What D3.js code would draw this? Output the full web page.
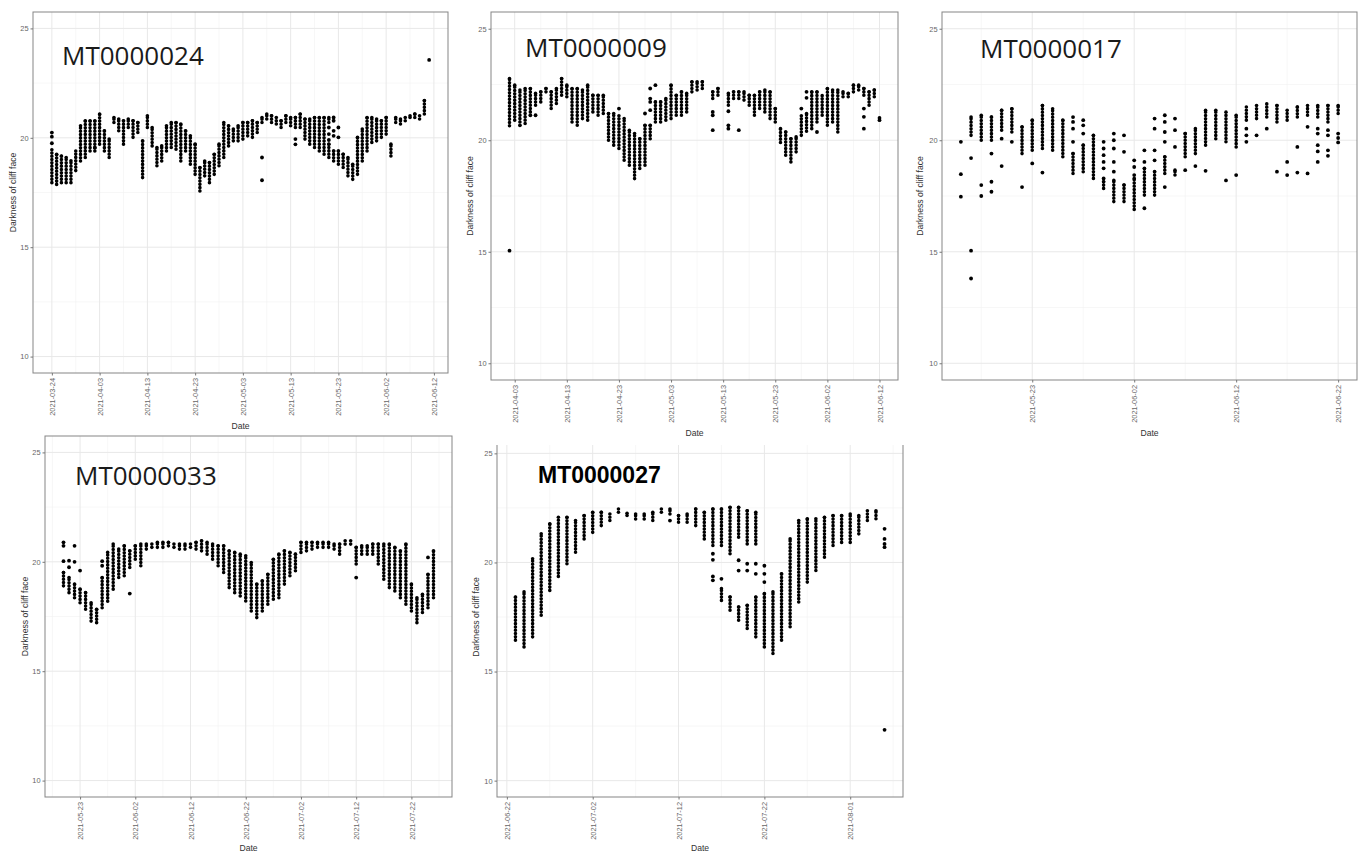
<!DOCTYPE html>
<html lang="en">
<head>
<meta charset="UTF-8">
<title>Darkness of cliff face</title>
<script src="https://cdn.jsdelivr.net/npm/d3@7"></script>
<style>
  * { margin: 0; padding: 0; }
  body { background: #fff; }
  svg { display: block; }
  .axis text { font-family: "Liberation Sans", Arial, sans-serif; font-size: 7.4px; fill: #666; }
  .axis line { stroke: #777; }
  .axis path { display: none; }
  .axis-title { font-family: "Liberation Sans", Arial, sans-serif; font-size: 8.6px; fill: #333; }
  .grid-major { stroke: #e8e8e8; stroke-width: 1; }
  .grid-minor { stroke: #f2f2f2; stroke-width: 0.6; }
</style>
</head>
<body>
<svg id="chart" width="1364" height="854"></svg>
<script>
// values shared by all panels
var yLimits = [10, 25];
var yTicks = [10, 15, 20, 25];

// MT0000024 : day offset from start, [day, low, high] stacks and single [day, value] points
var mt24Start = "2021-03-24";
var mt24Ticks = ["2021-03-24","2021-04-03","2021-04-13","2021-04-23","2021-05-03","2021-05-13","2021-05-23","2021-06-02","2021-06-12"];
var mt24Runs = [[0,17.95,19.45],[1,17.87,19.25],[2,17.95,19.17],[3,17.95,19.10],[4,17.95,18.95],[5,18.50,19.40],[6,18.94,20.55],[7,19.10,20.78],[8,19.40,20.78],[9,19.40,20.78],[10,19.71,21.09],[11,19.40,20.32],[12,19.10,19.94],[13,20.70,20.93],[14,20.32,20.86],[15,19.71,20.78],[16,20.47,20.86],[17,20.02,20.78],[18,20.24,20.70],[19,18.18,19.86],[20,20.47,21.01],[21,19.63,20.47],[22,18.72,19.56],[23,18.94,19.63],[24,19.40,20.55],[25,19.56,20.70],[26,19.48,20.70],[27,18.94,20.63],[28,19.40,20.32],[29,18.79,20.09],[30,18.33,19.71],[31,17.57,18.64],[32,18.26,18.94],[33,17.95,18.87],[34,18.33,19.25],[35,18.72,19.71],[36,19.10,20.70],[37,19.63,20.55],[38,19.86,20.40],[39,19.86,20.55],[40,19.94,20.70],[41,20.09,20.70],[42,20.02,20.78],[43,20.24,20.70],[44,20.70,20.93],[45,20.86,21.09],[46,20.70,21.01],[47,20.63,20.93],[48,20.47,20.78],[49,20.70,21.01],[50,20.55,20.93],[51,20.47,20.93],[52,20.47,21.09],[53,19.94,20.86],[54,19.71,20.86],[55,19.56,20.93],[56,19.40,20.93],[57,19.25,20.93],[58,20.70,20.93],[58,19.10,19.71],[59,18.94,19.40],[60,18.79,19.40],[61,18.64,19.25],[62,18.26,19.10],[63,18.10,18.79],[64,18.33,20.02],[65,18.94,20.40],[66,19.40,20.93],[67,19.79,20.93],[68,19.86,20.86],[69,20.02,20.78],[70,20.17,20.93],[71,19.17,19.71],[72,20.70,20.93],[73,20.63,20.86],[74,20.78,20.93],[75,20.93,21.01],[76,20.93,21.09],[77,20.86,21.01],[78,21.09,21.70]];
var mt24Dots = [[0,20.24],[0,20.05],[0,19.75],[9,19.55],[44,19.10],[44,18.06],[51,19.94],[51,19.70],[58,20.47],[58,20.17],[58,19.90],[59,20.93],[59,20.78],[59,20.32],[59,20.09],[60,20.47],[60,20.02],[79,23.56]];

// MT0000009
var mt09Start = "2021-04-03";
var mt09Ticks = ["2021-04-03","2021-04-13","2021-04-23","2021-05-03","2021-05-13","2021-05-23","2021-06-02","2021-06-12"];
var mt09Runs = [[-1,20.65,22.77],[0,20.90,22.47],[1,20.82,22.25],[2,20.75,22.32],[3,21.27,22.32],[4,21.57,22.10],[5,21.72,22.17],[6,22.17,22.32],[7,21.42,22.17],[8,21.65,22.32],[9,22.02,22.77],[10,21.95,22.47],[11,20.82,22.32],[12,20.67,22.32],[13,20.97,22.25],[14,20.90,22.47],[15,21.27,22.02],[16,21.12,22.02],[17,21.20,22.02],[18,20.00,21.20],[19,19.78,21.20],[20,19.63,21.10],[21,19.10,20.97],[22,18.88,20.45],[23,18.28,20.30],[24,18.73,20.07],[25,18.88,20.67],[26,20.07,20.67],[27,20.82,21.72],[28,20.82,21.72],[29,20.90,21.87],[30,20.97,22.47],[31,21.12,22.02],[32,21.12,22.17],[33,21.27,22.10],[34,22.17,22.62],[35,22.25,22.62],[36,22.32,22.62],[38,21.87,22.17],[39,22.02,22.32],[41,21.57,22.10],[42,21.87,22.17],[43,21.87,22.17],[44,21.80,22.17],[45,21.57,22.02],[46,21.12,22.02],[47,21.42,22.17],[48,21.27,22.25],[49,20.97,22.17],[50,20.82,21.42],[51,19.90,20.52],[52,19.33,20.37],[53,19.03,20.07],[54,19.48,20.15],[55,20.22,21.10],[56,20.40,21.20],[57,20.52,22.17],[58,20.82,22.17],[59,21.12,22.00],[60,20.67,22.32],[61,20.82,22.25],[62,20.37,22.25],[63,21.95,22.17],[64,21.95,22.10],[65,22.17,22.47],[66,22.25,22.47],[67,22.02,22.32],[68,21.57,22.17],[69,21.95,22.25]];
var mt09Dots = [[-1,15.05],[1,20.67],[3,21.12],[4,21.12],[20,21.42],[25,21.20],[26,22.32],[26,21.87],[26,21.72],[26,21.35],[27,22.47],[38,21.27],[38,21.12],[38,20.45],[41,21.30],[41,20.67],[41,20.52],[43,20.45],[55,21.42],[56,21.90],[56,22.17],[58,20.37],[67,21.42],[67,21.05],[67,20.52],[70,20.90],[70,21.00]];

// MT0000017
var mt17Start = "2021-05-23";
var mt17Ticks = ["2021-05-23","2021-06-02","2021-06-12","2021-06-22"];
var mt17Runs = [[-6,20.22,21.04],[-5,20.00,21.12],[-4,20.00,21.04],[-3,20.45,21.34],[-2,20.37,21.41],[-1,19.40,20.60],[0,19.55,20.90],[1,19.63,21.56],[2,19.55,21.41],[3,19.26,20.90],[4,18.51,19.40],[5,18.59,19.78],[6,18.29,20.22],[7,17.84,18.14],[8,17.25,18.20],[9,17.25,17.99],[10,16.90,18.29],[11,17.54,18.74],[12,17.54,18.60],[13,18.51,19.26],[14,18.44,18.66],[15,19.26,20.30],[16,19.40,20.52],[17,19.78,21.34],[18,20.07,21.34],[19,19.93,21.26],[20,19.70,21.12],[21,20.90,21.49],[22,20.97,21.56],[23,21.04,21.63],[24,20.82,21.56],[25,20.90,21.34],[26,21.04,21.49],[27,21.12,21.56],[28,21.04,21.56],[29,20.82,21.56],[30,21.20,21.56]];
var mt17Dots = [[-7,19.93],[-7,18.48],[-7,17.47],[-6,19.20],[-6,15.05],[-6,13.80],[-5,17.99],[-5,17.50],[-4,19.40],[-4,18.14],[-4,17.69],[-3,20.07],[-3,18.84],[-2,19.93],[-1,17.90],[0,18.96],[1,18.55],[4,21.04],[4,20.82],[4,20.52],[4,19.93],[5,20.90],[5,20.67],[5,20.30],[7,19.93],[7,19.63],[7,19.33],[7,19.03],[7,18.74],[7,18.29],[8,20.30],[8,20.00],[8,19.63],[8,19.03],[8,18.59],[9,20.22],[9,19.48],[10,19.10],[10,18.80],[10,18.44],[11,19.55],[11,19.03],[11,16.95],[12,20.97],[12,20.52],[12,19.55],[12,19.10],[13,21.12],[13,20.82],[13,20.37],[13,19.93],[13,17.90],[14,20.97],[14,20.45],[14,19.70],[15,18.66],[16,18.84],[17,18.63],[19,18.20],[20,18.44],[21,20.52],[21,20.22],[21,19.93],[22,20.22],[23,20.52],[24,18.59],[25,19.03],[25,18.44],[26,19.70],[26,18.55],[27,20.60],[27,18.51],[28,20.52],[28,20.30],[28,19.78],[28,19.50],[28,19.03],[29,20.45],[29,20.22],[29,19.55],[29,19.30],[30,20.30],[30,20.10],[30,19.90]];

// MT0000033
var mt33Start = "2021-05-23";
var mt33Ticks = ["2021-05-23","2021-06-02","2021-06-12","2021-06-22","2021-07-02","2021-07-12","2021-07-22"];
var mt33Runs = [[-3,18.90,19.51],[-2,18.59,19.28],[-1,18.36,18.98],[0,18.13,18.75],[1,17.83,18.59],[2,17.29,18.13],[3,17.22,17.83],[4,17.90,19.28],[5,18.20,20.43],[6,18.75,20.81],[7,19.28,20.58],[8,19.36,20.73],[9,19.74,20.50],[10,20.12,20.73],[11,19.82,20.81],[12,20.58,20.81],[13,20.66,20.81],[14,20.66,20.89],[15,20.66,20.89],[16,20.73,20.89],[17,20.66,20.81],[18,20.58,20.81],[19,20.58,20.81],[20,20.66,20.81],[21,20.58,20.89],[22,20.50,20.96],[23,20.35,20.89],[24,20.12,20.81],[25,19.82,20.73],[26,19.51,20.73],[27,18.82,20.50],[28,18.59,20.43],[29,18.44,20.35],[30,18.21,20.28],[31,17.75,19.97],[32,17.45,18.98],[33,17.75,19.13],[34,18.06,19.43],[35,18.29,20.12],[36,18.36,20.35],[37,18.98,20.50],[38,19.36,20.43],[39,19.59,20.35],[40,20.43,20.89],[41,20.50,20.89],[42,20.58,20.89],[43,20.66,20.89],[44,20.66,20.89],[45,20.66,20.89],[46,20.58,20.81],[47,20.35,20.81],[48,20.81,20.96],[49,20.81,20.96],[50,19.90,20.66],[51,20.35,20.73],[52,20.35,20.73],[53,20.35,20.81],[54,19.90,20.81],[55,19.20,20.81],[56,18.82,20.81],[57,18.67,20.66],[58,18.36,20.50],[59,18.06,20.81],[60,17.75,18.98],[61,17.22,18.36],[62,17.68,18.52],[63,17.90,19.43],[64,18.36,20.50]];
var mt33Dots = [[-3,20.89],[-3,20.73],[-3,20.03],[-2,20.05],[-2,19.75],[-1,20.73],[-1,20.00],[0,19.60],[4,20.03],[4,19.82],[9,18.55],[50,19.28],[63,20.20]];

// MT0000027
var mt27Start = "2021-06-22";
var mt27Ticks = ["2021-06-22","2021-07-02","2021-07-12","2021-07-22","2021-08-01"];
var mt27Runs = [[1,16.44,18.42],[2,16.13,18.65],[3,16.59,20.17],[4,17.58,21.31],[5,18.72,21.77],[6,19.36,22.07],[7,19.94,22.07],[8,20.47,21.92],[9,21.08,22.15],[10,21.38,22.30],[11,21.69,22.30],[12,21.92,22.22],[13,22.30,22.45],[14,22.15,22.25],[15,21.99,22.22],[16,21.99,22.22],[17,21.92,22.30],[18,22.30,22.45],[19,22.22,22.45],[20,21.84,22.15],[21,21.84,22.22],[22,21.69,22.45],[23,21.08,22.30],[24,20.78,22.45],[25,20.78,22.45],[25,18.26,18.80],[26,20.40,22.53],[26,17.81,18.42],[27,21.16,22.53],[27,17.35,17.96],[28,20.85,22.37],[28,16.97,18.04],[29,20.85,22.30],[29,16.59,18.42],[30,16.13,18.57],[31,15.83,18.65],[32,16.44,19.48],[33,17.05,21.08],[34,18.19,21.92],[35,19.10,22.00],[36,19.63,22.00],[37,20.24,22.07],[38,20.78,22.15],[39,20.92,22.15],[40,20.92,22.22],[41,21.31,22.15],[42,21.92,22.37],[43,22.00,22.37]];
var mt27Dots = [[19,21.92],[24,20.40],[24,20.12],[24,19.36],[24,19.18],[25,19.25],[27,20.10],[27,19.63],[28,19.94],[28,19.63],[29,19.94],[29,19.48],[30,19.85],[30,19.48],[30,19.10],[44,21.54],[44,21.08],[44,20.85],[44,20.70],[44,12.33]];

var panels = [
  { name: "MT0000024", start: mt24Start, ticks: mt24Ticks, runs: mt24Runs, dots: mt24Dots,
    box: { l: 33, t: 12, r: 448, b: 373 }, title: { x: 62, y: 65, bold: false }, yTitleX: 13, dateY: 429 },
  { name: "MT0000009", start: mt09Start, ticks: mt09Ticks, runs: mt09Runs, dots: mt09Dots,
    box: { l: 491, t: 12, r: 898, b: 380 }, title: { x: 525, y: 57, bold: false }, yTitleX: 470, dateY: 436 },
  { name: "MT0000017", start: mt17Start, ticks: mt17Ticks, runs: mt17Runs, dots: mt17Dots,
    box: { l: 942, t: 12, r: 1357, b: 380 }, title: { x: 980, y: 58, bold: false }, yTitleX: 920, dateY: 436 },
  { name: "MT0000033", start: mt33Start, ticks: mt33Ticks, runs: mt33Runs, dots: mt33Dots,
    box: { l: 45, t: 436, r: 452, b: 797 }, title: { x: 75, y: 485, bold: false }, yTitleX: 25, dateY: 851 },
  { name: "MT0000027", start: mt27Start, ticks: mt27Ticks, runs: mt27Runs, dots: mt27Dots,
    box: { l: 497, t: 437, r: 903, b: 797 }, title: { x: 538, y: 483, bold: true }, yTitleX: 476, dateY: 851, clipTop: 445 }
];

var parse = d3.utcParse("%Y-%m-%d");
var fmt = d3.utcFormat("%Y-%m-%d");
var svg = d3.select("#chart");

// ggplot style 5% expansion
function expand(ext) {
  var pad = (ext[1] - ext[0]) * 0.05;
  return [ext[0] - pad, ext[1] + pad];
}

panels.forEach(function(p, idx) {
  var b = p.box;
  var start = parse(p.start);
  var day = function(d) { return d3.utcDay.offset(start, d); };

  var g = svg.append("g");
  if (p.clipTop) {
    svg.append("clipPath").attr("id", "clip" + idx)
      .append("rect").attr("x", 0).attr("y", p.clipTop).attr("width", 1364).attr("height", 854 - p.clipTop);
    g.attr("clip-path", "url(#clip" + idx + ")");
  }

  var days = p.runs.map(function(d) { return d[0]; }).concat(p.dots.map(function(d) { return d[0]; }));
  var dx = expand(d3.extent(days));
  var x = d3.scaleUtc()
    .domain([start.getTime() + dx[0] * 864e5, start.getTime() + dx[1] * 864e5].map(function(t) { return new Date(t); }))
    .range([b.l, b.r]);
  var y = d3.scaleLinear().domain(expand(yLimits)).range([b.b, b.t]);

  var tickDates = p.ticks.map(parse);
  var xDom = x.domain();
  var minorX = [];
  tickDates.forEach(function(t, i) {
    if (i === 0) minorX.push(d3.utcDay.offset(t, -5));
    minorX.push(d3.utcDay.offset(t, 5));
  });
  minorX = minorX.filter(function(t) { return t >= xDom[0] && t <= xDom[1]; });
  var minorY = yTicks.slice(1).map(function(v, i) { return (v + yTicks[i]) / 2; });

  // grid
  g.selectAll(".gmy").data(minorY).enter().append("line").attr("class", "grid-minor")
    .attr("x1", b.l).attr("x2", b.r).attr("y1", y).attr("y2", y);
  g.selectAll(".gmx").data(minorX).enter().append("line").attr("class", "grid-minor")
    .attr("y1", b.t).attr("y2", b.b).attr("x1", x).attr("x2", x);
  g.selectAll(".gy").data(yTicks).enter().append("line").attr("class", "grid-major")
    .attr("x1", b.l).attr("x2", b.r).attr("y1", y).attr("y2", y);
  g.selectAll(".gx").data(tickDates).enter().append("line").attr("class", "grid-major")
    .attr("y1", b.t).attr("y2", b.b).attr("x1", x).attr("x2", x);

  // stacked readings of one day, drawn as a dotted column
  g.selectAll(".run").data(p.runs).enter().append("line")
    .attr("x1", function(d) { return x(day(d[0])); })
    .attr("x2", function(d) { return x(day(d[0])); })
    .attr("y1", function(d) { return y(d[1]); })
    .attr("y2", function(d) { return y(d[2]); })
    .attr("stroke", "#000").attr("stroke-width", 3.6)
    .attr("stroke-linecap", "round").attr("stroke-dasharray", "0,3.3");
  g.selectAll(".cap").data(p.runs).enter().append("circle")
    .attr("cx", function(d) { return x(day(d[0])); })
    .attr("cy", function(d) { return y(d[2]); })
    .attr("r", 1.8).attr("fill", "#000");
  g.selectAll(".dot").data(p.dots).enter().append("circle")
    .attr("cx", function(d) { return x(day(d[0])); })
    .attr("cy", function(d) { return y(d[1]); })
    .attr("r", 1.9).attr("fill", "#000");

  // border
  g.append("rect").attr("x", b.l).attr("y", b.t).attr("width", b.r - b.l).attr("height", b.b - b.t)
    .attr("fill", "none").attr("stroke", "#858585").attr("stroke-width", 1);

  // axes
  g.append("g").attr("class", "axis").attr("transform", "translate(" + b.l + ",0)")
    .call(d3.axisLeft(y).tickValues(yTicks).tickSize(2.5).tickPadding(2));

  var xa = g.append("g").attr("class", "axis").attr("transform", "translate(0," + b.b + ")")
    .call(d3.axisBottom(x).tickValues(tickDates).tickFormat(fmt).tickSize(2.5));
  xa.selectAll("text")
    .attr("transform", "rotate(-90)")
    .attr("x", -5).attr("y", 0).attr("dy", "0.35em")
    .style("text-anchor", "end");

  // titles
  g.append("text").attr("class", "axis-title")
    .attr("transform", "translate(" + p.yTitleX + "," + (b.t + b.b) / 2 + ") rotate(-90)")
    .attr("text-anchor", "middle").attr("dy", "0.35em")
    .text("Darkness of cliff face");
  g.append("text").attr("class", "axis-title")
    .attr("x", (b.l + b.r) / 2).attr("y", p.dateY)
    .attr("text-anchor", "middle").text("Date");

  g.append("text")
    .attr("x", p.title.x).attr("y", p.title.y)
    .style("font-family", p.title.bold ? "'Liberation Sans', Arial, sans-serif" : "'Open Sans', sans-serif")
    .style("font-size", p.title.bold ? "23px" : "26px")
    .style("font-weight", p.title.bold ? "bold" : "normal")
    .style("fill", p.title.bold ? "#000" : "#1a1a1a")
    .text(p.name);
});
</script>
</body>
</html>
